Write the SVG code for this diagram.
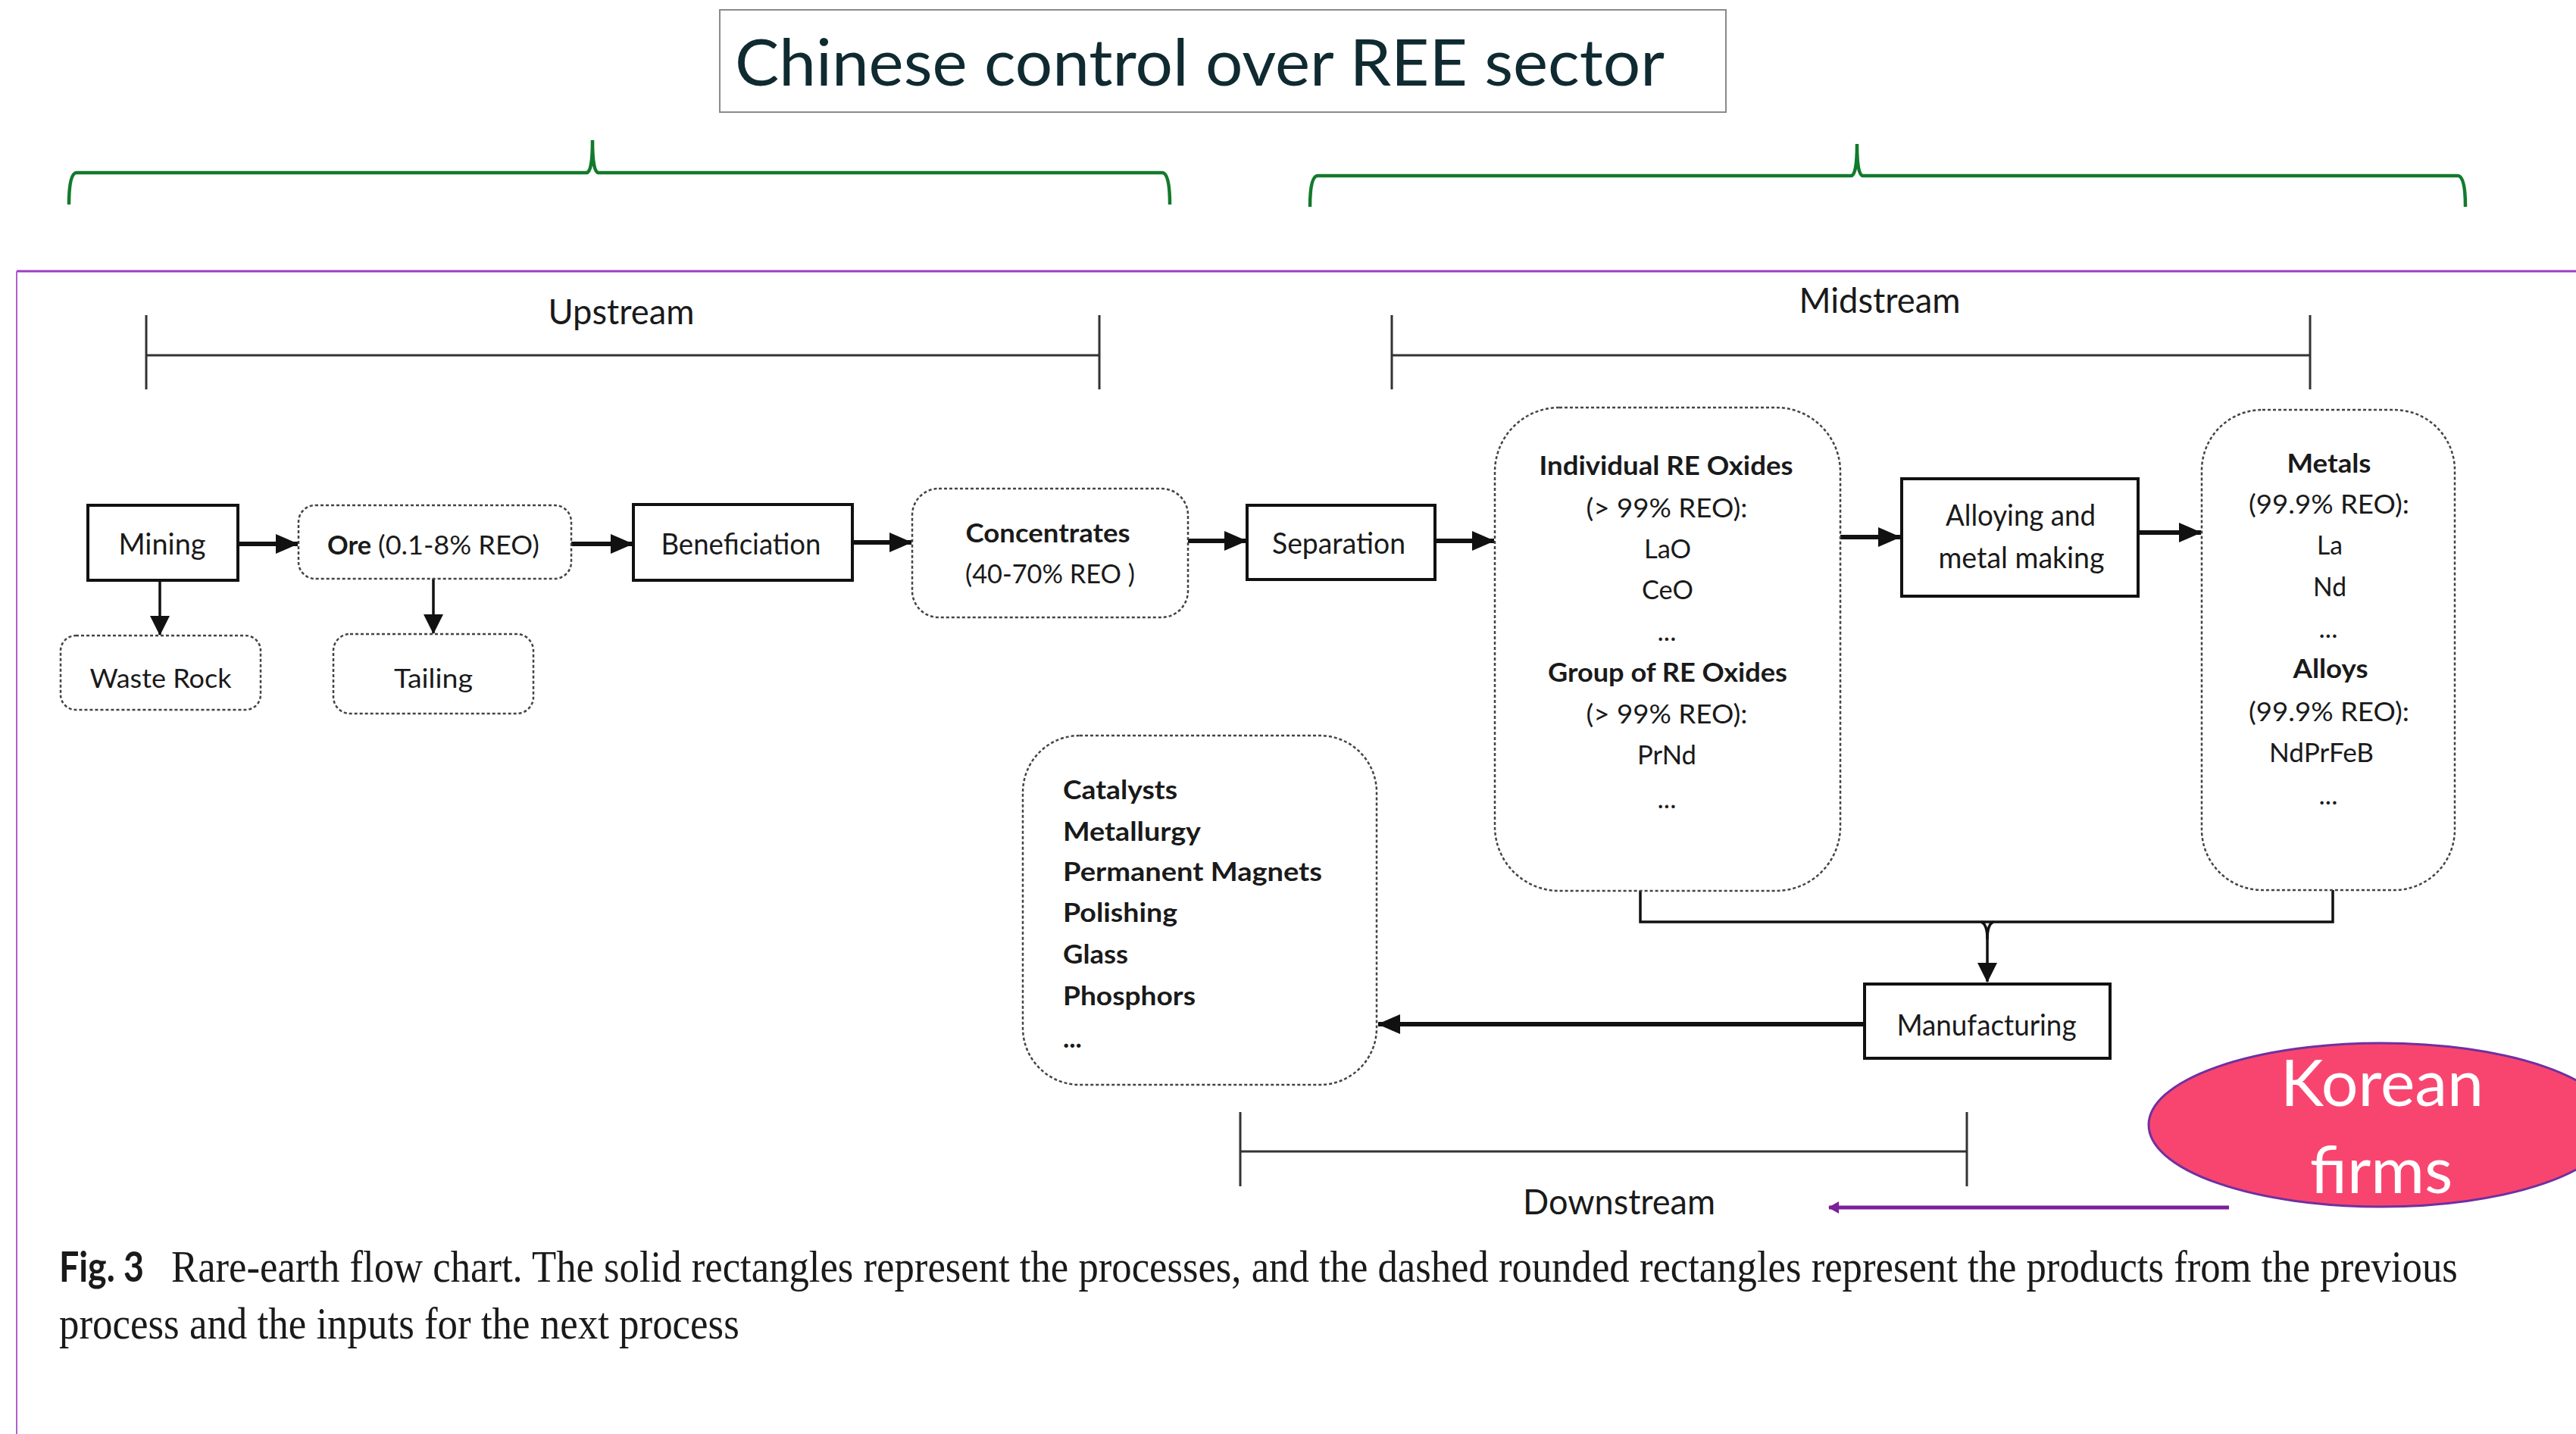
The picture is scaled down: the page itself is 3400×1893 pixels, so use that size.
<svg xmlns="http://www.w3.org/2000/svg" width="3400" height="1893" viewBox="0 0 3400 1893">
<defs>
<marker id="ah" markerUnits="userSpaceOnUse" markerWidth="30" markerHeight="26" refX="29" refY="13" orient="auto"><path d="M0,0 L30,13 L0,26 z" fill="#111"/></marker>
<marker id="ahs" markerUnits="userSpaceOnUse" markerWidth="26" markerHeight="26" refX="25" refY="13" orient="auto"><path d="M0,0 L26,13 L0,26 z" fill="#111"/></marker>
<marker id="ahp" markerUnits="userSpaceOnUse" markerWidth="14" markerHeight="16" refX="13" refY="8" orient="auto"><path d="M0,0 L14,8 L0,16 z" fill="#7b1f9a"/></marker>
<style>
.proc{fill:#fff;stroke:#111;stroke-width:4}
.prod{fill:#fff;stroke:#444;stroke-width:2.5;stroke-dasharray:4 3}
.t{font-family:Lato,"Open Sans",sans-serif;font-size:35px;fill:#1a1a1a}
.p{font-size:38px}
.b{font-weight:bold}
.c{text-anchor:middle}
.sec{font-size:47px}
.br{fill:none;stroke:#333;stroke-width:3}
.gb{fill:none;stroke:#127a2c;stroke-width:4.5}
.cn{fill:none;stroke:#111;stroke-width:6}
.cn2{fill:none;stroke:#111;stroke-width:3.5}
.cap{font-family:"Liberation Serif","Times New Roman",serif;font-size:60px;fill:#1a1a1a}
</style>
</defs>
<rect width="3400" height="1893" fill="#fff"/>

<g id="title">
<rect x="950" y="13" width="1328" height="135" fill="#fff" stroke="#8a8a8a" stroke-width="2"/>
<text x="970" y="113" font-family="Lato,'Open Sans',sans-serif" font-size="86" fill="#0f2a30" textLength="1227" lengthAdjust="spacingAndGlyphs">Chinese control over REE sector</text>
</g>

<g id="braces">
<path class="gb" d="M91,270 Q91,228 101,228 L774,228 Q782,228 782,185 Q782,228 790,228 L1534,228 Q1544,228 1544,270"/>
<path class="gb" d="M1729,273 Q1729,232 1739,232 L2443,232 Q2451,232 2451,190 Q2451,232 2459,232 L3244,232 Q3254,232 3254,273"/>
</g>

<g id="frame">
<line x1="22" y1="358" x2="3400" y2="358" stroke="#9c3fc0" stroke-width="3"/>
<line x1="22" y1="358" x2="22" y2="1893" stroke="#b35fd0" stroke-width="2"/>
</g>

<g id="upstream">
<path class="br" d="M193,416 V514 M193,469 H1451 M1451,416 V514"/>
<text class="t sec c" x="820" y="428" textLength="193" lengthAdjust="spacingAndGlyphs">Upstream</text>
</g>
<g id="midstream">
<path class="br" d="M1837,416 V514 M1837,469 H3049 M3049,416 V514"/>
<text class="t sec c" x="2481" y="413" textLength="213" lengthAdjust="spacingAndGlyphs">Midstream</text>
</g>
<g id="downstream">
<path class="br" d="M1637,1468 V1566 M1637,1520 H2596 M2596,1468 V1566"/>
<text class="t sec c" x="2137" y="1603" textLength="254" lengthAdjust="spacingAndGlyphs">Downstream</text>
</g>

<g id="connectors">
<line class="cn" x1="314" y1="718" x2="393" y2="718" marker-end="url(#ah)"/>
<line class="cn" x1="754" y1="718" x2="835" y2="718" marker-end="url(#ah)"/>
<line class="cn" x1="1125" y1="716" x2="1203" y2="716" marker-end="url(#ah)"/>
<line class="cn" x1="1568" y1="714" x2="1645" y2="714" marker-end="url(#ah)"/>
<line class="cn" x1="1894" y1="714" x2="1972" y2="714" marker-end="url(#ah)"/>
<line class="cn" x1="2429" y1="709" x2="2508" y2="709" marker-end="url(#ah)"/>
<line class="cn" x1="2822" y1="703" x2="2905" y2="703" marker-end="url(#ah)"/>
<line class="cn2" x1="211" y1="766" x2="211" y2="838" marker-end="url(#ahs)"/>
<line class="cn2" x1="572" y1="764" x2="572" y2="836" marker-end="url(#ahs)"/>
<path class="cn2" d="M2165,1176 V1217 H3079 V1175"/>
<path class="cn2" d="M2615,1217 Q2623,1220 2623,1240 L2623,1296" marker-end="url(#ahs)"/>
<path class="cn2" d="M2631,1217 Q2623,1220 2623,1240"/>
<line class="cn" x1="2461" y1="1352" x2="1819" y2="1352" marker-end="url(#ah)"/>
<line x1="2942" y1="1594" x2="2414" y2="1594" stroke="#7b1f9a" stroke-width="5" marker-end="url(#ahp)"/>
</g>

<g id="mining">
<rect class="proc" x="116" y="667" width="198" height="99"/>
<text class="t p c" x="214" y="732" textLength="115" lengthAdjust="spacingAndGlyphs">Mining</text>
</g>
<g id="ore">
<rect class="prod" x="394" y="667" width="360" height="97" rx="22"/>
<text class="t b" x="432" y="732" textLength="58" lengthAdjust="spacingAndGlyphs">Ore</text>
<text class="t" x="499" y="732" textLength="213" lengthAdjust="spacingAndGlyphs">(0.1-8% REO)</text>
</g>
<g id="beneficiation">
<rect class="proc" x="836" y="666" width="289" height="100"/>
<text class="t p c" x="978" y="732" textLength="211" lengthAdjust="spacingAndGlyphs">Beneficiation</text>
</g>
<g id="waste-rock">
<rect class="prod" x="80" y="839" width="264" height="98" rx="20"/>
<text class="t c" x="212" y="908" textLength="187" lengthAdjust="spacingAndGlyphs">Waste Rock</text>
</g>
<g id="tailing">
<rect class="prod" x="440" y="837" width="264" height="105" rx="22"/>
<text class="t c" x="572" y="908" textLength="104" lengthAdjust="spacingAndGlyphs">Tailing</text>
</g>
<g id="concentrates">
<rect class="prod" x="1204" y="645" width="364" height="170" rx="35"/>
<text class="t b c" x="1383" y="716" textLength="217" lengthAdjust="spacingAndGlyphs">Concentrates</text>
<text class="t c" x="1386" y="770" textLength="224" lengthAdjust="spacingAndGlyphs">(40-70% REO )</text>
</g>
<g id="separation">
<rect class="proc" x="1646" y="667" width="248" height="98"/>
<text class="t p c" x="1767" y="731" textLength="176" lengthAdjust="spacingAndGlyphs">Separation</text>
</g>
<g id="re-oxides">
<rect class="prod" x="1973" y="538" width="456" height="638" rx="85"/>
<text class="t b c" x="2199" y="627" textLength="335" lengthAdjust="spacingAndGlyphs">Individual RE Oxides</text>
<text class="t c" x="2200" y="683" textLength="213" lengthAdjust="spacingAndGlyphs">(&gt; 99% REO):</text>
<text class="t c" x="2201" y="737" textLength="62" lengthAdjust="spacingAndGlyphs">LaO</text>
<text class="t c" x="2201" y="791" textLength="68" lengthAdjust="spacingAndGlyphs">CeO</text>
<text class="t c" x="2200" y="846">...</text>
<text class="t b c" x="2201" y="900" textLength="316" lengthAdjust="spacingAndGlyphs">Group of RE Oxides</text>
<text class="t c" x="2200" y="955" textLength="213" lengthAdjust="spacingAndGlyphs">(&gt; 99% REO):</text>
<text class="t c" x="2200" y="1009" textLength="78" lengthAdjust="spacingAndGlyphs">PrNd</text>
<text class="t c" x="2200" y="1067">...</text>
</g>
<g id="alloying">
<rect class="proc" x="2510" y="632" width="312" height="155"/>
<text class="t p c" x="2667" y="694" textLength="198" lengthAdjust="spacingAndGlyphs">Alloying and</text>
<text class="t p c" x="2668" y="750" textLength="219" lengthAdjust="spacingAndGlyphs">metal making</text>
</g>
<g id="metals">
<rect class="prod" x="2906" y="541" width="334" height="634" rx="80"/>
<text class="t b c" x="3074" y="624" textLength="111" lengthAdjust="spacingAndGlyphs">Metals</text>
<text class="t c" x="3074" y="678" textLength="212" lengthAdjust="spacingAndGlyphs">(99.9% REO):</text>
<text class="t c" x="3075" y="732" textLength="34" lengthAdjust="spacingAndGlyphs">La</text>
<text class="t c" x="3075" y="787" textLength="44" lengthAdjust="spacingAndGlyphs">Nd</text>
<text class="t c" x="3073" y="842">...</text>
<text class="t b c" x="3076" y="895" textLength="99" lengthAdjust="spacingAndGlyphs">Alloys</text>
<text class="t c" x="3074" y="952" textLength="212" lengthAdjust="spacingAndGlyphs">(99.9% REO):</text>
<text class="t c" x="3064" y="1006" textLength="138" lengthAdjust="spacingAndGlyphs">NdPrFeB</text>
<text class="t c" x="3073" y="1062">...</text>
</g>
<g id="manufacturing">
<rect class="proc" x="2461" y="1299" width="324" height="98"/>
<text class="t p c" x="2622" y="1367" textLength="237" lengthAdjust="spacingAndGlyphs">Manufacturing</text>
</g>
<g id="applications">
<rect class="prod" x="1350" y="971" width="467" height="461" rx="75"/>
<text class="t b" x="1403" y="1055" textLength="151" lengthAdjust="spacingAndGlyphs">Catalysts</text>
<text class="t b" x="1403" y="1110" textLength="182" lengthAdjust="spacingAndGlyphs">Metallurgy</text>
<text class="t b" x="1403" y="1163" textLength="342" lengthAdjust="spacingAndGlyphs">Permanent Magnets</text>
<text class="t b" x="1403" y="1217" textLength="151" lengthAdjust="spacingAndGlyphs">Polishing</text>
<text class="t b" x="1403" y="1272" textLength="86" lengthAdjust="spacingAndGlyphs">Glass</text>
<text class="t b" x="1403" y="1327" textLength="175" lengthAdjust="spacingAndGlyphs">Phosphors</text>
<text class="t b" x="1403" y="1383">...</text>
</g>

<g id="korean-firms">
<ellipse cx="3143" cy="1485" rx="307" ry="108" fill="#f8456f" stroke="#7030a0" stroke-width="3"/>
<text x="3144" y="1460" text-anchor="middle" font-family="Lato,'Open Sans',sans-serif" font-size="86" fill="#fff">Korean</text>
<text x="3143" y="1575" text-anchor="middle" font-family="Lato,'Open Sans',sans-serif" font-size="86" fill="#fff">firms</text>
</g>

<g id="caption">
<text x="78" y="1692" font-family="Lato,'Open Sans',sans-serif" font-weight="bold" font-size="56" fill="#1a1a1a" textLength="112" lengthAdjust="spacingAndGlyphs">Fig. 3</text>
<text class="cap" transform="translate(226,1692) scale(0.78,1)" x="0" y="0" textLength="3869" lengthAdjust="spacingAndGlyphs">Rare-earth flow chart. The solid rectangles represent the processes, and the dashed rounded rectangles represent the products from the previous</text>
<text class="cap" transform="translate(78,1767) scale(0.78,1)" x="0" y="0" textLength="1151" lengthAdjust="spacingAndGlyphs">process and the inputs for the next process</text>
</g>
</svg>
